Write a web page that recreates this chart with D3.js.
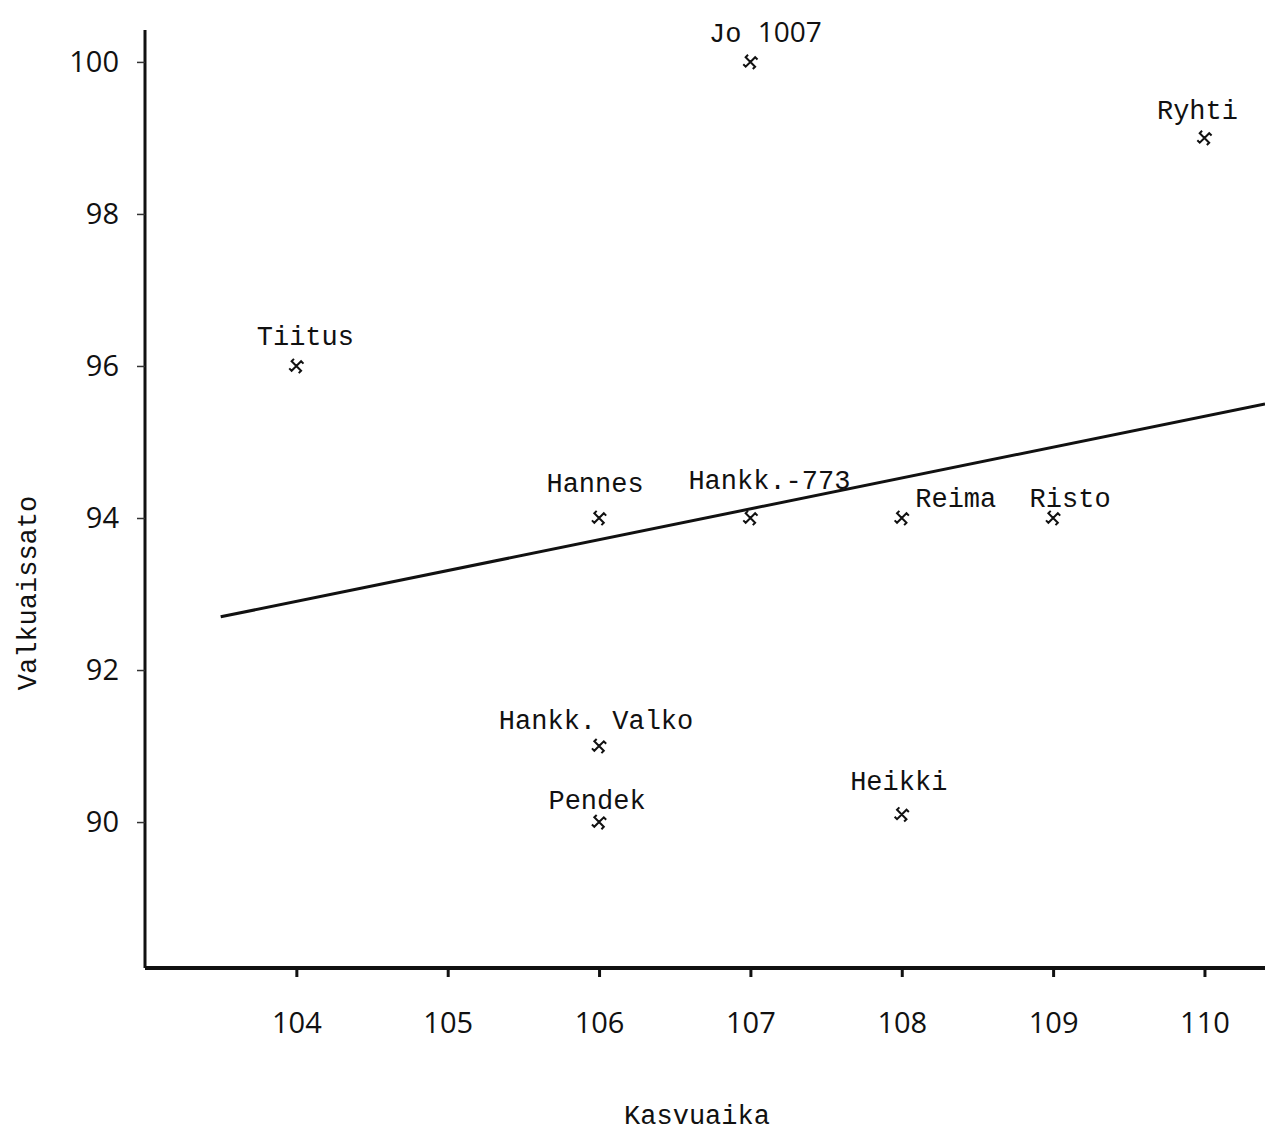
<!DOCTYPE html>
<html>
<head>
<meta charset="utf-8">
<script src="https://cdn.jsdelivr.net/npm/d3@7"></script>
<style>
  body { margin: 0; background: #fff; }
  svg { display: block; }
  .lbl { font-family: "Liberation Mono", "Courier New", monospace; font-size: 27px; fill: #111; }
  .tick text { font-family: "Open Sans", "Noto Sans", sans-serif; font-size: 29px; fill: #111; }
</style>
</head>
<body>
<div id="chart"></div>
<script>
// values
const names = ["Jo 1007", "Ryhti", "Tiitus", "Hannes", "Hankk.-773", "Reima", "Risto", "Hankk. Valko", "Pendek", "Heikki"];
const kasvuaika = [107, 110, 104, 106, 107, 108, 109, 106, 106, 108];
const valkuaissato = [100, 99, 96, 94, 94, 94, 94, 91, 90, 90.1];
const xTicks = [104, 105, 106, 107, 108, 109, 110];
const yTicks = [90, 92, 94, 96, 98, 100];
const trendX = [103.5, 110.4];
const trendY = [92.7, 95.5];

const width = 1265, height = 1134;
const margin = { left: 145, right: 0, top: 30, bottom: 166 };
const innerWidth = width - margin.left - margin.right;
const innerHeight = height - margin.top - margin.bottom;

// label placement (layout only)
const labelShift = {
  "Jo 1007": [15, -20],
  "Ryhti": [-7, -19],
  "Tiitus": [9, -21],
  "Hannes": [-4, -26],
  "Hankk.-773": [19, -29],
  "Reima": [54, -11],
  "Risto": [17, -11],
  "Hankk. Valko": [-3, -17],
  "Pendek": [-2, -13],
  "Heikki": [-3, -24]
};

const points = names.map((n, i) => ({ name: n, x: kasvuaika[i], y: valkuaissato[i] }));

const xScale = d3.scaleLinear().domain([103.0, 110.4]).range([0, innerWidth]);
const yScale = d3.scaleLinear().domain([88.08, 100.42]).range([innerHeight, 0]);

const svg = d3.select("#chart").append("svg")
  .attr("width", width).attr("height", height);

const g = svg.append("g").attr("transform", `translate(${margin.left},${margin.top})`);

// axes
const xAxis = g.append("g")
  .attr("class", "axis axis-x")
  .attr("transform", `translate(0,${innerHeight})`)
  .call(d3.axisBottom(xScale).tickValues(xTicks).tickFormat(d3.format("d")).tickSize(9).tickPadding(35));
xAxis.select(".domain").attr("stroke", "#111").attr("stroke-width", 4).attr("d", `M0,0H${innerWidth}`);
xAxis.selectAll(".tick line").attr("stroke", "#111").attr("stroke-width", 3);

const yAxis = g.append("g")
  .attr("class", "axis axis-y")
  .call(d3.axisLeft(yScale).tickValues(yTicks).tickFormat(d3.format("d")).tickSize(8).tickPadding(18));
yAxis.select(".domain").attr("stroke", "#111").attr("stroke-width", 3).attr("d", `M0,0V${innerHeight}`);
yAxis.selectAll(".tick line").attr("stroke", "#333").attr("stroke-width", 1.5);

// trend line
const line = d3.line().x(d => xScale(d[0])).y(d => yScale(d[1]));
g.append("path")
  .datum(trendX.map((x, i) => [x, trendY[i]]))
  .attr("fill", "none")
  .attr("stroke", "#111")
  .attr("stroke-width", 3)
  .attr("d", line);

// small pinwheel-like marker
const pinwheel = {
  draw(context, size) {
    const r = Math.sqrt(size) / 2;
    for (let k = 0; k < 4; k++) {
      const a = Math.PI / 4 + k * Math.PI / 2;
      const ex = Math.cos(a) * r, ey = Math.sin(a) * r;
      context.moveTo(0, 0);
      context.lineTo(ex, ey);
      const b = a + Math.PI / 2;
      context.lineTo(ex + Math.cos(b) * r * 0.5, ey + Math.sin(b) * r * 0.5);
    }
  }
};

const pts = g.append("g").attr("class", "points");
pts.selectAll("path")
  .data(points)
  .join("path")
  .attr("transform", d => `translate(${xScale(d.x)},${yScale(d.y)})`)
  .attr("d", d3.symbol(pinwheel, 180))
  .attr("fill", "none")
  .attr("stroke", "#111")
  .attr("stroke-width", 2);

// point labels
pts.selectAll("text")
  .data(points)
  .join("text")
  .attr("class", "lbl")
  .attr("text-anchor", "middle")
  .attr("x", d => xScale(d.x) + labelShift[d.name][0])
  .attr("y", d => yScale(d.y) + labelShift[d.name][1])
  .each(function (d) {
    const t = d3.select(this);
    const m = d.name.match(/^(\D+)(\d+)$/);
    if (m && d.name.startsWith("Jo")) {
      t.append("tspan").text(m[1]);
      t.append("tspan").style("font-family", "'Open Sans', sans-serif").style("font-size", "28px").text(m[2]);
    } else {
      t.text(d.name);
    }
  });

// axis titles
svg.append("text")
  .attr("class", "lbl")
  .attr("text-anchor", "middle")
  .attr("x", 697)
  .attr("y", 1124)
  .text("Kasvuaika");

svg.append("text")
  .attr("class", "lbl")
  .attr("text-anchor", "middle")
  .attr("transform", "translate(36,593) rotate(-90)")
  .text("Valkuaissato");
</script>
</body>
</html>
